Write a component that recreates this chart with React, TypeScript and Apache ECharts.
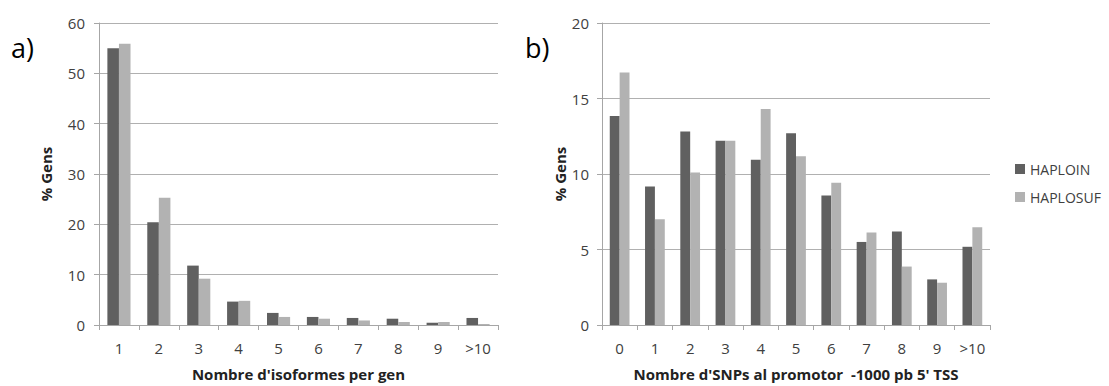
import React, { useEffect, useRef } from "react";
import * as echarts from "echarts";

const catsA = ["1", "2", "3", "4", "5", "6", "7", "8", "9", ">10"];
const haploinA = [55.0, 20.4, 11.8, 4.65, 2.4, 1.6, 1.4, 1.25, 0.45, 1.4];
const haplosufA = [55.9, 25.3, 9.2, 4.8, 1.6, 1.25, 0.9, 0.6, 0.6, 0.2];

const catsB = ["0", "1", "2", "3", "4", "5", "6", "7", "8", "9", ">10"];
const haploinB = [13.84, 9.18, 12.81, 12.2, 10.95, 12.7, 8.57, 5.5, 6.19, 3.02, 5.18];
const haplosufB = [16.72, 7.0, 10.1, 12.2, 14.3, 11.17, 9.42, 6.12, 3.87, 2.8, 6.47];

const seriesNames = ["HAPLOIN", "HAPLOSUF"];
const xNameA = "Nombre d'isoformes per gen";
const xNameB = "Nombre d'SNPs al promotor  -1000 pb 5' TSS";
const yName = "% Gens";

const DARK = "#606060";
const LIGHT = "#b2b2b2";
const FONT = "'Open Sans', sans-serif";

export default function App() {
  const ref = useRef<HTMLDivElement>(null);
  useEffect(() => {
    if (!ref.current) return;
    const chart = echarts.init(ref.current, undefined, { renderer: "svg" });
    const axisLine = { show: true, lineStyle: { color: "#a6a6a6", width: 1 } };
    const axisTick = { show: true, length: 5, lineStyle: { color: "#a6a6a6" } };
    const labelStyle = { color: "#404040", fontSize: 15, fontFamily: FONT };
    const nameStyle = { color: "#222", fontSize: 15, fontWeight: "bold" as const, fontFamily: FONT };
    const mkX = (idx: number, data: string[], name: string, gap: number) => ({
      type: "category",
      gridIndex: idx,
      data,
      name,
      nameLocation: "middle",
      nameGap: gap,
      nameTextStyle: nameStyle,
      axisLine,
      axisTick: { ...axisTick, alignWithLabel: false },
      axisLabel: { ...labelStyle, margin: 15, interval: 0 },
      splitLine: { show: false },
    });
    const mkY = (idx: number, max: number, interval: number, gap: number, margin: number) => ({
      type: "value",
      gridIndex: idx,
      min: 0,
      max,
      interval,
      name: yName,
      nameLocation: "middle",
      nameGap: gap,
      nameTextStyle: nameStyle,
      axisLine,
      axisTick,
      axisLabel: { ...labelStyle, margin },
      splitLine: { show: true, lineStyle: { color: "#b0b0b0", width: 1 } },
    });
    const bar = (name: string, data: number[], idx: number, color: string, gap: string) => ({
      type: "bar",
      name,
      data,
      xAxisIndex: idx,
      yAxisIndex: idx,
      barGap: "0%",
      barCategoryGap: gap,
      itemStyle: { color },
    });
    chart.setOption({
      animation: false,
      textStyle: { fontFamily: FONT },
      grid: [
        { left: 99, top: 23, width: 399, height: 305 },
        { left: 602, top: 23, width: 388, height: 305 },
      ],
      xAxis: [mkX(0, catsA, xNameA, 41), mkX(1, catsB, xNameB, 41)],
      yAxis: [mkY(0, 60, 10, 46, 14), mkY(1, 20, 5, 29, 13)],
      legend: {
        orient: "vertical",
        left: 1015,
        top: 162,
        padding: 0,
        itemWidth: 10,
        itemHeight: 10,
        itemGap: 14,
        icon: "rect",
        textStyle: { color: "#404040", fontSize: 14, fontFamily: FONT },
        data: seriesNames,
      },
      series: [
        bar(seriesNames[0], haploinA, 0, DARK, "42%"),
        bar(seriesNames[1], haplosufA, 0, LIGHT, "42%"),
        bar(seriesNames[0], haploinB, 1, DARK, "44%"),
        bar(seriesNames[1], haplosufB, 1, LIGHT, "44%"),
      ],
      graphic: [
        { type: "text", left: 11, top: 34, style: { text: "a)", fontSize: 27, fill: "#000", fontFamily: FONT } },
        { type: "text", left: 525, top: 34, style: { text: "b)", fontSize: 27, fill: "#000", fontFamily: FONT } },
      ],
    });
    return () => chart.dispose();
  }, []);
  return (
    <div
      ref={ref}
      style={{ position: "fixed", left: 0, top: 0, width: 1109, height: 386, background: "#fff" }}
    />
  );
}
